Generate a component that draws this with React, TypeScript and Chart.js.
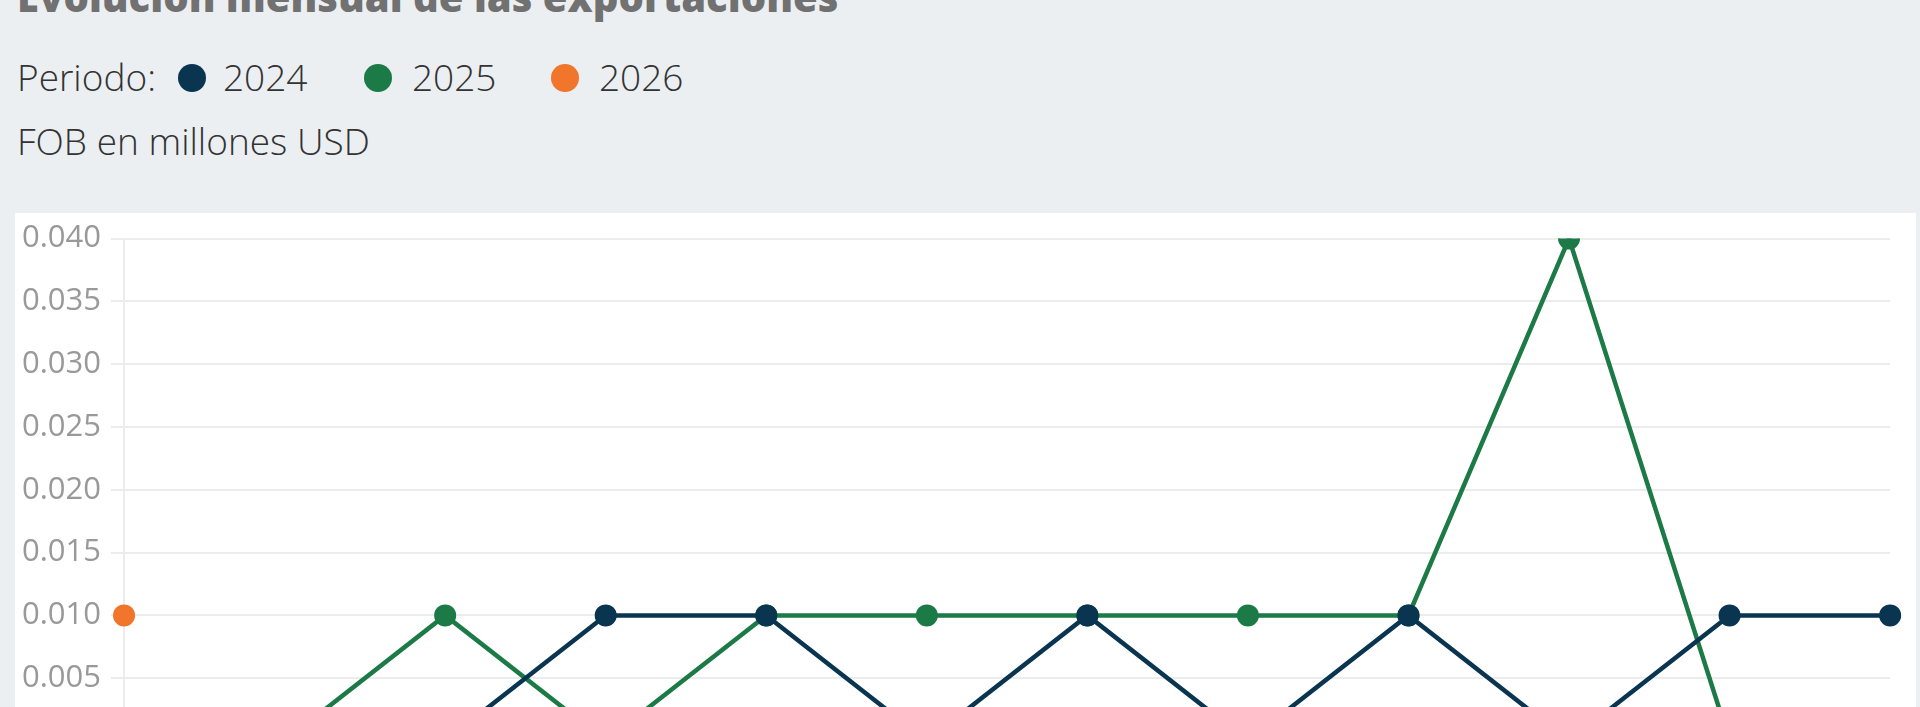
import React, { useEffect, useRef } from "react";
import { Chart, registerables } from "chart.js";

Chart.register(...registerables);

const months = ["Ene", "Feb", "Mar", "Abr", "May", "Jun", "Jul", "Ago", "Sep", "Oct", "Nov", "Dic"];
const values2024 = [0, 0, 0, 0.01, 0.01, 0, 0.01, 0, 0.01, 0, 0.01, 0.01];
const values2025 = [0, 0, 0.01, 0, 0.01, 0.01, 0.01, 0.01, 0.01, 0.04, 0, 0];
const values2026 = [0.01, null, null, null, null, null, null, null, null, null, null, null];
const seriesLabels = ["2024", "2025", "2026"];
const seriesColors = ["#0a3550", "#1b7a45", "#f1752a"];

const FONT = "'Open Sans', sans-serif";

function Text({ x, baseline, size, weight, color, children }: any) {
  const top = baseline - 0.888 * size;
  return (
    <div
      style={{
        position: "absolute",
        left: x,
        top,
        fontFamily: FONT,
        fontSize: size,
        lineHeight: `${size}px`,
        fontWeight: weight,
        color,
        whiteSpace: "nowrap",
      }}
    >
      {children}
    </div>
  );
}

function Dot({ cx, cy, color }: any) {
  return (
    <div
      style={{
        position: "absolute",
        left: cx - 14,
        top: cy - 14,
        width: 28,
        height: 28,
        borderRadius: "50%",
        background: color,
      }}
    />
  );
}

export default function App() {
  const canvasRef = useRef<HTMLCanvasElement | null>(null);

  useEffect(() => {
    const ctx = canvasRef.current!;
    const series = [values2024, values2025, values2026];
    const chart = new Chart(ctx, {
      type: "line",
      data: {
        labels: months,
        datasets: series.map((d, i) => ({
          label: seriesLabels[i],
          data: d,
          borderColor: seriesColors[i],
          backgroundColor: seriesColors[i],
          pointBackgroundColor: seriesColors[i],
          pointBorderColor: seriesColors[i],
          borderWidth: 4.5,
          pointRadius: 10,
          pointBorderWidth: 2,
          tension: 0,
          spanGaps: false,
        })),
      },
      options: {
        animation: false,
        responsive: false,
        maintainAspectRatio: false,
        layout: { padding: { top: 0, left: -3, right: 0, bottom: 10 } },
        plugins: { legend: { display: false }, tooltip: { enabled: false } },
        scales: {
          x: {
            offset: false,
            grid: { display: false, drawTicks: false },
            border: { display: false },
            ticks: { color: "#999", font: { family: "Open Sans", size: 30 }, padding: 10 },
          },
          y: {
            min: 0,
            max: 0.04,
            ticks: {
              stepSize: 0.005,
              color: "#999",
              font: { family: "Open Sans", size: 31, weight: "400" },
              padding: 10,
              callback: (v: any) => Number(v).toFixed(3),
            },
            grid: { color: "#ececec", lineWidth: 2, tickLength: 13 },
            border: { display: true, color: "#ececec", width: 2 },
          },
        },
      },
    });
    return () => chart.destroy();
  }, []);

  return (
    <div style={{ position: "relative", width: 1920, height: 707, overflow: "hidden", background: "#ebeff2" }}>
      <style>{`body{margin:0;background:#ebeff2;overflow:hidden}`}</style>
      <Text x={17} baseline={12.5} size={40} weight={800} color="#717171">
        Evolución mensual de las exportaciones
      </Text>
      <Text x={17} baseline={91} size={37} weight={300} color="#333">
        Periodo:
      </Text>
      <Dot cx={191.7} cy={78.3} color={seriesColors[0]} />
      <Text x={223} baseline={91} size={37} weight={300} color="#333">
        {seriesLabels[0]}
      </Text>
      <Dot cx={378} cy={78.3} color={seriesColors[1]} />
      <Text x={412} baseline={91} size={37} weight={300} color="#333">
        {seriesLabels[1]}
      </Text>
      <Dot cx={565} cy={78.3} color={seriesColors[2]} />
      <Text x={599} baseline={91} size={37} weight={300} color="#333">
        {seriesLabels[2]}
      </Text>
      <Text x={17} baseline={155} size={37} weight={300} color="#333">
        FOB en millones USD
      </Text>
      <div style={{ position: "absolute", left: 15, top: 213, width: 1901, height: 640, background: "#fff" }}>
        <canvas
          ref={canvasRef}
          width={1907}
          height={597}
          style={{ display: "block", position: "absolute", left: 0, top: -3, width: 1907, height: 597 }}
        />
      </div>
    </div>
  );
}
